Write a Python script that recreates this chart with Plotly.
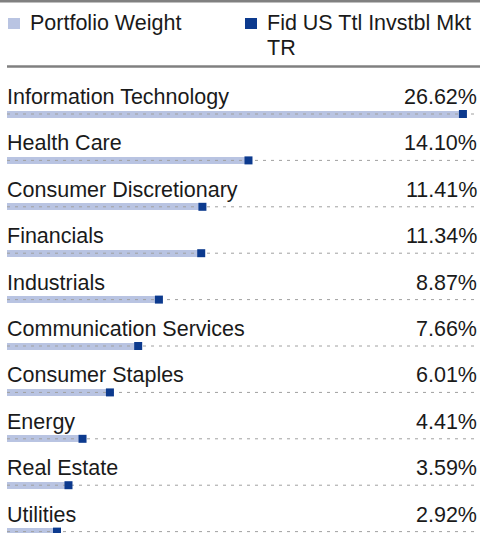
import plotly.graph_objects as go

sectors = ["Information Technology", "Health Care", "Consumer Discretionary", "Financials",
           "Industrials", "Communication Services", "Consumer Staples", "Energy",
           "Real Estate", "Utilities"]
portfolio = [26.62, 14.10, 11.41, 11.34, 8.87, 7.66, 6.01, 4.41, 3.59, 2.92]
benchmark = [26.62, 14.10, 11.41, 11.34, 8.87, 7.66, 6.01, 4.41, 3.59, 2.92]
legend_names = ["Portfolio Weight", "Fid US Ttl Invstbl Mkt<br>TR"]

W, H = 480, 533
L, R = 7, 2
XMAX = 27.5
FIRST = 114
LIGHT = "#b9c4e2"
DARK = "#0c3a8e"
TXT = "#1a1a1a"
FONT = "Helvetica, Liberation Sans, Arial, sans-serif"
FS = 21.5

rows = list(range(len(sectors)))
ybot = len(sectors) - 1 + 0.03
ROW = (H - FIRST) / ybot
ytop = -FIRST / ROW


def px(x):
    return (x - L) / (W - L - R)


def py(y):
    return 1 - y / H


fig = go.Figure()
fig.add_trace(go.Bar(x=portfolio, y=rows, orientation="h", width=7 / ROW,
                     marker=dict(color=LIGHT, line=dict(width=0)), hoverinfo="skip"))

lx, ly = [], []
for i in rows:
    lx += [0, XMAX, None]
    ly += [i, i, None]
fig.add_trace(go.Scatter(x=lx, y=ly, mode="lines",
                         line=dict(color="#a0a0a0", width=1, dash="3px,5px"),
                         hoverinfo="skip"))
fig.add_trace(go.Scatter(x=benchmark, y=rows, mode="markers", cliponaxis=False,
                         marker=dict(symbol="square", size=8, color=DARK, line=dict(width=0)),
                         hoverinfo="skip"))

ann = []
for i, (s, v) in enumerate(zip(sectors, portfolio)):
    ann.append(dict(x=0, xref="paper", y=i, yref="y", text=s, showarrow=False,
                    xanchor="left", yanchor="middle", yshift=17, xshift=-2,
                    font=dict(family=FONT, size=FS, color=TXT)))
    ann.append(dict(x=1, xref="paper", y=i, yref="y", text=f"{v:.2f}%", showarrow=False,
                    xanchor="right", yanchor="middle", yshift=17, xshift=1,
                    font=dict(family=FONT, size=FS, color=TXT)))

# legend
leg_items = [(8, LIGHT, legend_names[0]), (245, DARK, legend_names[1])]
shapes = []
for x0, col, name in leg_items:
    shapes.append(dict(type="rect", xref="paper", yref="paper",
                       x0=px(x0), x1=px(x0 + 12), y0=py(18), y1=py(29),
                       fillcolor=col, line=dict(width=0)))
    for k, line in enumerate(name.split("<br>")):
        ann.append(dict(x=px(x0 + 20), xref="paper", y=py(23 + 25 * k), yref="paper",
                        text=line, showarrow=False, xanchor="left", yanchor="middle",
                        font=dict(family=FONT, size=FS, color=TXT)))

shapes.append(dict(type="line", xref="paper", yref="paper", x0=px(0), x1=px(W),
                   y0=py(1.3), y1=py(1.3), line=dict(color="#808080", width=2.5)))
shapes.append(dict(type="line", xref="paper", yref="paper", x0=px(7), x1=px(W),
                   y0=py(66.5), y1=py(66.5), line=dict(color="#808080", width=2.5)))

fig.update_layout(
    width=W, height=H, margin=dict(l=L, r=R, t=0, b=0),
    paper_bgcolor="white", plot_bgcolor="white", showlegend=False,
    xaxis=dict(range=[0, XMAX], visible=False, fixedrange=True),
    yaxis=dict(range=[ybot, ytop], visible=False, fixedrange=True),
    annotations=ann, shapes=shapes, bargap=0,
)
fig.write_html("out.html", config=dict(displayModeBar=False),
               post_script="document.body.style.margin='0';document.body.style.overflow='hidden';")
